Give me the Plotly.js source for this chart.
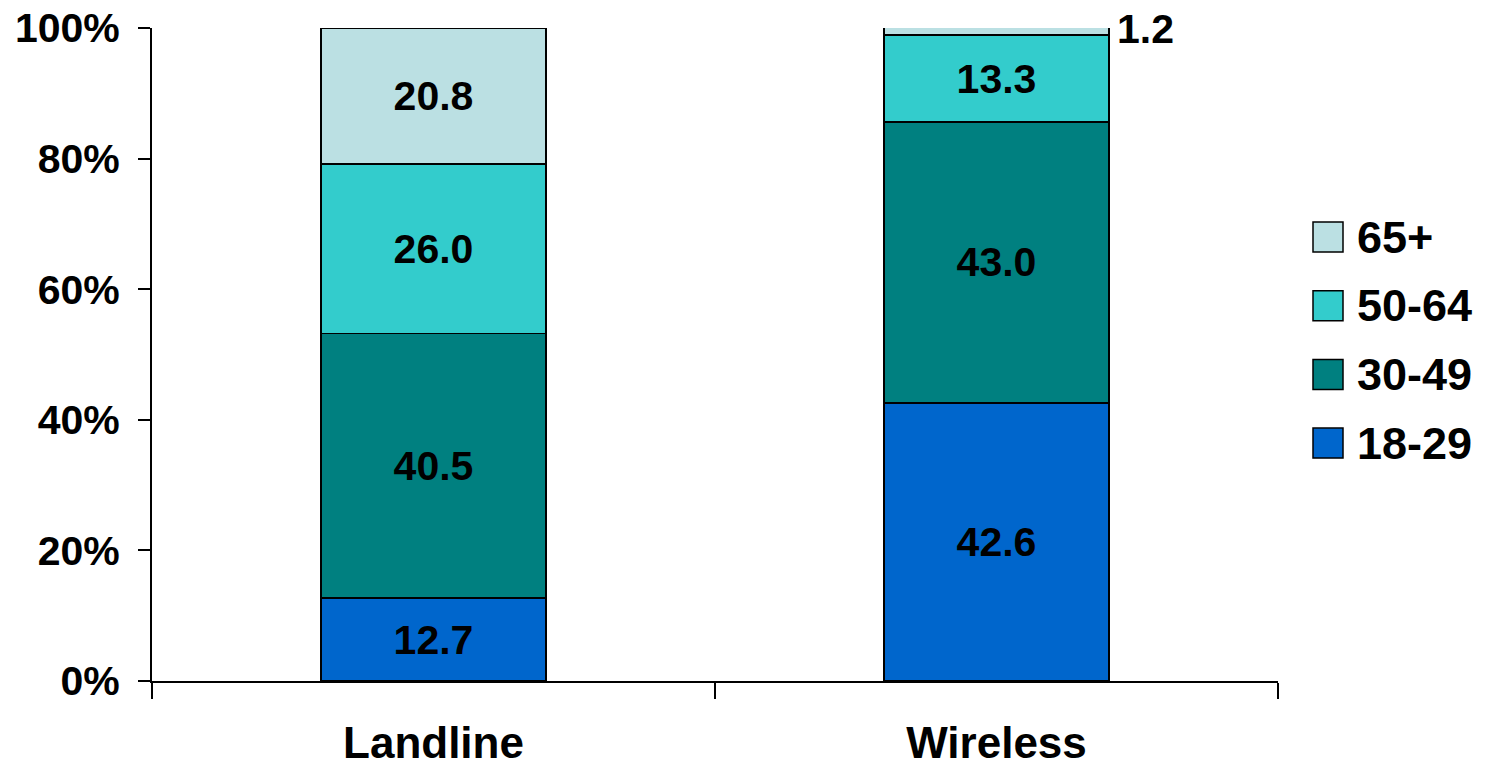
<!DOCTYPE html>
<html>
<head>
<meta charset="utf-8">
<script src="https://cdn.plot.ly/plotly-3.0.1.min.js"></script>
<style>html,body{margin:0;padding:0;background:#fff;}#chart{width:1488px;height:773px;}</style>
</head>
<body>
<div id="chart"></div>
<script>
// ---- data ----
const categories = ["Landline", "Wireless"];
const seriesNames = ["18-29", "30-49", "50-64", "65+"];
const age18_29 = [12.7, 42.6];
const age30_49 = [40.5, 43.0];
const age50_64 = [26.0, 13.3];
const age65plus = [20.8, 1.2];
const yTickVals = [0, 20, 40, 60, 80, 100];
const yTickText = ["0%", "20%", "40%", "60%", "80%", "100%"];

// ---- styles ----
const colors = ["#0066CC", "#008080", "#33CCCC", "#BBE0E3"];
const FONT = "Liberation Sans, Arial, Helvetica, sans-serif";
const seriesValues = [age18_29, age30_49, age50_64, age65plus];

const traces = seriesValues.map((vals, i) => {
  const pos = vals.map(v => v < 5 ? "none" : "inside");
  return {
    type: "bar",
    name: seriesNames[i],
    x: categories,
    y: vals,
    marker: {color: colors[i], line: {color: "#000", width: 1.5}},
    texttemplate: "%{y:.1f}",
    textposition: pos,
    insidetextanchor: "middle",
    constraintext: "none",
    textfont: {family: FONT, size: 41, color: "#000", weight: 700},
    showlegend: false,
    hoverinfo: "skip"
  };
});

// outside annotation for segments too thin to hold their label
const annotations = [];
seriesValues.forEach((vals, i) => {
  vals.forEach((v, j) => {
    if (v < 5) {
      let base = 0;
      for (let k = 0; k < i; k++) base += seriesValues[k][j];
      annotations.push({
        x: categories[j], y: Math.min(base + v / 2, 100), xref: "x", yref: "y",
        text: v.toFixed(1), showarrow: false,
        xanchor: "left", yanchor: "middle", xshift: 118, yshift: 2,
        font: {family: FONT, size: 41, color: "#000", weight: 700}
      });
    }
  });
});

// custom legend (reverse order, top = last series)
const shapes = [];
const legTop = (681 - 237) / 653;
const legStep = 68.7 / 653;
const sq = 30;
for (let n = 0; n < seriesNames.length; n++) {
  const i = seriesNames.length - 1 - n;
  const yc = legTop - n * legStep;
  const h = (sq / 2) / 653;
  shapes.push({
    type: "rect", xref: "paper", yref: "paper",
    x0: (1313 - 152) / 1126, x1: (1343 - 152) / 1126,
    y0: yc - h, y1: yc + h,
    fillcolor: colors[i], line: {color: "#000", width: 1.5}
  });
  annotations.push({
    xref: "paper", yref: "paper",
    x: (1355 - 152) / 1126, y: yc, xanchor: "left", yanchor: "middle",
    text: seriesNames[i], showarrow: false,
    font: {family: FONT, size: 45, color: "#000", weight: 700}
  });
}

const layout = {
  width: 1488, height: 773,
  margin: {l: 152, r: 210, t: 28, b: 92},
  paper_bgcolor: "#fff", plot_bgcolor: "#fff",
  barmode: "stack",
  bargap: 0.6,
  showlegend: false,
  font: {family: FONT, color: "#000"},
  xaxis: {
    type: "category",
    tickson: "boundaries",
    ticks: "outside", ticklen: 16, tickwidth: 2, tickcolor: "#000",
    showline: true, linecolor: "#000", linewidth: 2,
    showgrid: false, zeroline: false,
    tickfont: {family: FONT, size: 44, color: "#000", weight: 700},
    ticklabelstandoff: 22
  },
  yaxis: {
    range: [0, 100],
    tickvals: yTickVals, ticktext: yTickText,
    ticks: "outside", ticklen: 12, tickwidth: 2, tickcolor: "#000",
    showline: true, linecolor: "#000", linewidth: 2,
    showgrid: false, zeroline: false,
    tickfont: {family: FONT, size: 41, color: "#000", weight: 700},
    ticklabelstandoff: 10
  },
  shapes: shapes,
  annotations: annotations
};

Plotly.newPlot("chart", traces, layout, {displayModeBar: false, staticPlot: true});
</script>
</body>
</html>
